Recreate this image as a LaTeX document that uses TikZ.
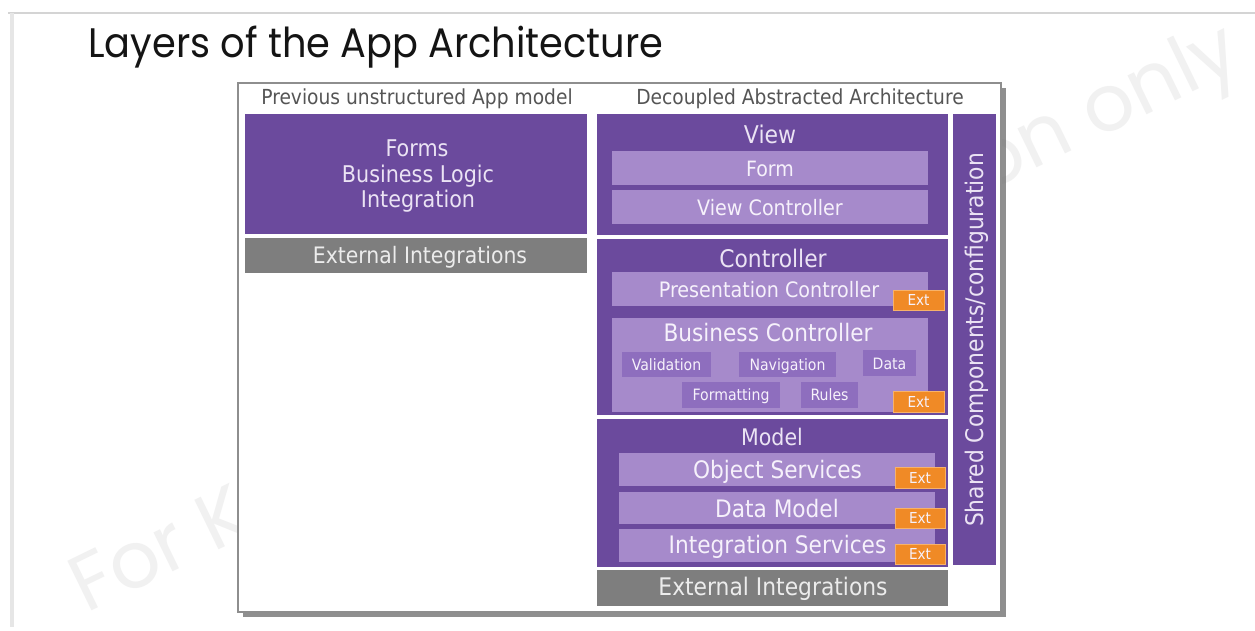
\documentclass[tikz,border=0pt]{standalone}
\usepackage{fontspec}
\setmainfont{DejaVu Sans}[FakeStretch=0.9]
\newfontfamily\titlefont{Poppins}
\newfontfamily\wmfont{Poppins}
\usetikzlibrary{shadows}
\definecolor{dkp}{HTML}{6B4A9D}
\definecolor{ltp}{HTML}{A68ACB}
\definecolor{mdp}{HTML}{8E6EBE}
\definecolor{grb}{HTML}{7E7E7E}
\definecolor{orng}{HTML}{F08A26}
\definecolor{orngl}{HTML}{F7B26A}
\definecolor{hdr}{HTML}{555555}
\definecolor{onDk}{HTML}{EBE3F4}
\definecolor{onLt}{HTML}{F6F1FB}
\definecolor{onGr}{HTML}{ECECEC}
\definecolor{frame}{HTML}{D4D4D4}
\definecolor{framev}{HTML}{E6E6E6}
\definecolor{wm}{HTML}{F1F1F1}
\definecolor{outerln}{HTML}{8E8E8E}
\newcommand\blk[6]{%
  \pgfmathsetmacro\bw{((#5)-(#3))*0.02}%
  \pgfmathsetmacro\bh{((#6)-(#4))*0.02}%
  \node[#2, anchor=north west, inner sep=0pt, outer sep=0pt,
        minimum width=\bw cm, minimum height=\bh cm] (#1) at (#3,#4) {};}
\newcommand\txt[5]{\node[#2, anchor=base, inner sep=0pt] (#1) at (#3,#4) {#5};}
\newcommand\fs[1]{\fontsize{#1}{#1}\selectfont}
\begin{document}
\begin{tikzpicture}[x=0.02cm, y=-0.02cm,
  dk/.style={fill=dkp},
  lt/.style={fill=ltp},
  md/.style={fill=mdp},
  gr/.style={fill=grb},
  extbox/.style={fill=orng, draw=orngl, line width=0.5pt},
  hdrtxt/.style={text=hdr, font=\fs{11.8}},
  dktxt/.style={text=onDk},
  lttxt/.style={text=onLt},
  grtxt/.style={text=onGr},
  smtxt/.style={text=onLt, font=\fs{8.9}},
  exttxt/.style={text=onLt, font=\fs{8.6}},
  wmtxt/.style={text=wm, font=\wmfont\fontsize{45}{50}\selectfont, rotate=26, inner sep=0pt}]
\useasboundingbox (0,0) rectangle (1255,630);
\fill[white] (0,0) rectangle (1255,630);
% slide frame
\coordinate (ftl) at (8,13);
\coordinate (ftr) at (1255,13);
\coordinate (fvt) at (12,13);
\coordinate (fvb) at (12,627);
\draw[frame, line width=1.2pt] (ftl) -- (ftr);
\draw[framev, line width=2pt] (fvt) -- (fvb);
% title
\node[anchor=base west, inner sep=0pt, text=black!92] (title) at (88,57)
  {\resizebox{11.5cm}{0.63cm}{\titlefont Layers of the App Architecture}};
% watermark
\node[wmtxt, anchor=base west] (wm1) at (86,614) {For K};
\node[wmtxt, anchor=base west] (wm2) at (986,193) {on only};
% outer panel
\blk{panel}{fill=white, draw=outerln, line width=0.6pt,
  drop shadow={shadow xshift=0.09cm, shadow yshift=-0.09cm, fill=black!55, opacity=0.8}}{238}{83}{1001}{612}
% headers
\txt{hdrL}{hdrtxt}{417}{104}{Previous unstructured App model}
\txt{hdrR}{hdrtxt}{800}{104}{Decoupled Abstracted Architecture}
% left column
\blk{fbl}{dk}{245}{114}{587}{234}
\txt{fblA}{dktxt, font=\fs{13.1}}{417}{156}{Forms}
\txt{fblB}{dktxt, font=\fs{13.1}}{418}{182}{Business Logic}
\txt{fblC}{dktxt, font=\fs{13.1}}{418}{207}{Integration}
\blk{extL}{gr}{245}{238}{587}{273}
\txt{extLt}{grtxt, font=\fs{12.9}}{420}{263}{External Integrations}
% view
\blk{view}{dk}{597}{114}{948}{235}
\txt{viewt}{dktxt, font=\fs{13.9}}{770}{143}{View}
\blk{form}{lt}{612}{151}{928}{185}
\txt{formt}{lttxt, font=\fs{12.0}}{770}{176}{Form}
\blk{vc}{lt}{612}{190}{928}{224}
\txt{vct}{lttxt, font=\fs{12.1}}{770}{215}{View Controller}
% controller
\blk{ctrl}{dk}{597}{239}{948}{415}
\txt{ctrlt}{dktxt, font=\fs{13.8}}{773}{267}{Controller}
\blk{pc}{lt}{612}{272}{928}{306}
\txt{pct}{lttxt, font=\fs{12.1}}{769}{297}{Presentation Controller}
\blk{ext1}{extbox}{893}{290}{944}{310}
\txt{ext1t}{exttxt}{918.5}{305.5}{Ext}
\blk{bc}{lt}{612}{318}{928}{412}
\txt{bct}{lttxt, font=\fs{13.7}}{768}{341}{Business Controller}
\blk{val}{md}{622}{352}{711}{377}
\txt{valt}{smtxt}{666.5}{370}{Validation}
\blk{nav}{md}{739}{352}{836}{377}
\txt{navt}{smtxt}{787.5}{370}{Navigation}
\blk{data}{md}{863}{350}{916}{376}
\txt{datat}{smtxt}{889.5}{369}{Data}
\blk{fmt}{md}{682}{382}{780}{408}
\txt{fmtt}{smtxt}{731}{400}{Formatting}
\blk{rul}{md}{801}{382}{858}{408}
\txt{rult}{smtxt}{829.5}{400}{Rules}
\blk{ext2}{extbox}{893}{391}{944}{412}
\txt{ext2t}{exttxt}{918.5}{407}{Ext}
% model
\blk{model}{dk}{597}{419}{948}{567}
\txt{modelt}{dktxt, font=\fs{13.0}}{772}{445}{Model}
\blk{os}{lt}{619}{453}{935}{486}
\txt{ost}{lttxt, font=\fs{13.7}}{777.5}{478}{Object Services}
\blk{ext3}{extbox}{895}{467}{945}{488}
\txt{ext3t}{exttxt}{920}{483}{Ext}
\blk{dm}{lt}{619}{492}{935}{524}
\txt{dmt}{lttxt, font=\fs{13.7}}{777}{517}{Data Model}
\blk{ext4}{extbox}{895}{508}{945}{528}
\txt{ext4t}{exttxt}{920}{523.5}{Ext}
\blk{isv}{lt}{619}{529}{935}{562}
\txt{isvt}{lttxt, font=\fs{13.7}}{777.5}{553}{Integration Services}
\blk{ext5}{extbox}{895}{544}{945}{564}
\txt{ext5t}{exttxt}{920}{559.5}{Ext}
% external right
\blk{extR}{gr}{597}{570}{948}{606}
\txt{extRt}{grtxt, font=\fs{13.8}}{773}{595}{External Integrations}
% shared bar
\blk{shared}{dk}{953}{114}{996}{565}
\node[dktxt, font=\fs{13.8}, rotate=90, anchor=base, inner sep=0pt] (sharedt) at (983,340) {Shared Components/configuration};
\end{tikzpicture}
\end{document}
